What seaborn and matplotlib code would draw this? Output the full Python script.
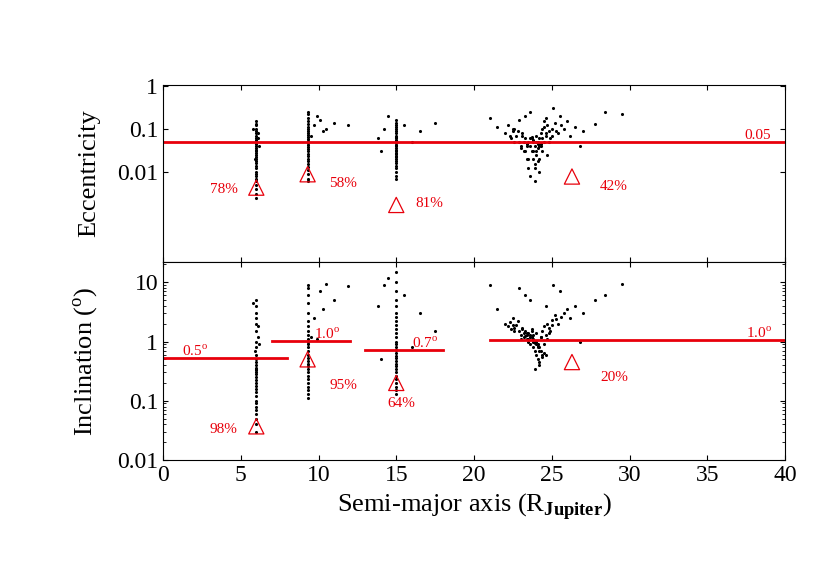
import matplotlib
matplotlib.use("Agg")
import matplotlib.pyplot as plt
import seaborn as sns
import pandas as pd

plt.rcParams["font.family"] = "Liberation Serif"
plt.rcParams["mathtext.fontset"] = "custom"
plt.rcParams["mathtext.rm"] = "Liberation Serif"
plt.rcParams["mathtext.bf"] = "Liberation Serif:bold"

# cluster 1 (a ~ 6)
a1 = [5.95]*31
e1 = [0.0025,0.003,0.004,0.005,0.006,0.007,0.008,0.009,0.01,0.012,0.014,0.016,0.018,0.02,0.022,0.025,
      0.028,0.03,0.033,0.036,0.04,0.045,0.05,0.055,0.06,0.07,0.08,0.09,0.1,0.12,0.15]
i1 = [0.03,0.04,0.05,0.06,0.07,0.08,0.09,0.1,0.12,0.14,0.16,0.18,0.2,0.22,0.25,0.28,0.3,0.33,0.36,0.4,
      0.45,0.5,0.6,0.8,1.0,1.5,2.0,3.0,4.0,5.0,0.35]
a1b = [6.1,5.8,6.2,6.0,5.9,6.1]
e1b = [0.06,0.1,0.04,0.13,0.02,0.08]
i1b = [1.2,4.5,0.9,2.5,0.7,1.8]

# cluster 2 (a ~ 9.3)
a2 = [9.3]*28 + [9.5,9.7,10.1,10.5,11.0,11.9,9.9,10.3]
e2 = [0.006,0.007,0.009,0.011,0.013,0.015,0.018,0.02,0.023,0.026,0.03,0.034,0.038,0.042,0.047,0.052,
      0.058,0.065,0.072,0.08,0.09,0.1,0.11,0.13,0.15,0.18,0.22,0.25,0.07,0.12,0.16,0.1,0.14,0.12,0.2,0.09]
i2 = [0.11,0.13,0.15,0.17,0.2,0.23,0.26,0.3,0.34,0.38,0.42,0.47,0.52,0.6,0.7,0.8,0.9,1.0,1.1,1.3,
      1.5,1.8,2.2,3.0,4.5,6.0,8.0,9.0,1.2,2.5,7.0,9.5,5.0,8.5,1.1,3.5]

# cluster 3 (a ~ 15)
a3 = [15.0]*30 + [13.8,14.2,14.5,15.5,16.0,16.5,17.5,14.0]
e3 = [0.007,0.008,0.01,0.012,0.014,0.016,0.018,0.02,0.022,0.024,0.026,0.028,0.03,0.033,0.036,0.04,
      0.043,0.047,0.05,0.055,0.06,0.065,0.07,0.08,0.09,0.1,0.11,0.12,0.14,0.16,
      0.06,0.1,0.2,0.12,0.05,0.09,0.14,0.03]
i3 = [0.13,0.15,0.17,0.2,0.23,0.26,0.3,0.34,0.38,0.42,0.47,0.52,0.58,0.65,0.72,0.8,0.9,1.0,1.2,1.4,
      1.6,1.9,2.2,2.6,3.0,4.0,5.0,7.0,10.0,15.0,4.0,9.0,12.0,6.0,0.8,3.0,1.5,0.5]

# cluster 4 (a ~ 21-30)
a4 = [22.0,22.2,22.4,22.5,22.6,22.8,23.0,23.1,23.2,23.3,23.4,23.5,23.5,23.6,23.6,23.7,23.7,23.8,23.8,23.9,
      23.9,24.0,24.0,24.1,24.1,24.2,24.2,24.3,24.3,24.4,24.4,24.5,24.5,24.6,24.7,24.8,24.9,25.0,25.2,25.4,
      25.6,25.8,26.0,26.2,26.5,27.0,27.8,29.5,21.0,21.5,22.9,23.3,23.6,23.9,24.2,24.6,25.1,25.5,26.8,28.4,
      23.0,23.4,23.8,24.0,24.3,24.7,22.7,23.2,23.7,24.1,
      22.3,22.6,22.9,23.1,23.4,23.6,23.8,24.0,24.2,24.4,24.6,24.8,25.0,25.3,23.5,23.9,24.1,23.3,22.5,24.5]
e4 = [0.08,0.12,0.06,0.1,0.05,0.09,0.04,0.07,0.03,0.06,0.02,0.05,0.012,0.04,0.008,0.03,0.06,0.02,0.05,0.015,
      0.04,0.07,0.025,0.05,0.035,0.06,0.02,0.045,0.08,0.03,0.1,0.05,0.15,0.07,0.12,0.09,0.06,0.1,0.14,0.08,
      0.12,0.1,0.15,0.07,0.11,0.09,0.13,0.22,0.18,0.11,0.16,0.2,0.25,0.006,0.01,0.18,0.3,0.2,0.04,0.25,
      0.035,0.045,0.055,0.03,0.04,0.025,0.07,0.05,0.065,0.045,
      0.07,0.1,0.05,0.08,0.04,0.06,0.03,0.05,0.04,0.06,0.08,0.05,0.07,0.09,0.02,0.012,0.018,0.03,0.09,0.11]
i4 = [2.0,1.8,1.6,2.5,1.5,2.2,1.3,1.7,1.2,1.5,1.1,1.4,1.0,1.3,0.9,1.2,1.6,0.8,1.1,0.7,
      1.0,1.4,0.6,0.9,0.5,0.8,0.4,0.7,1.2,0.6,1.5,0.9,1.8,1.3,2.0,1.7,1.5,2.3,2.8,2.0,
      2.6,3.0,3.5,2.5,4.0,3.0,5.0,9.5,9.0,3.5,8.0,6.0,5.0,0.35,0.45,4.0,9.0,7.0,1.0,6.0,
      1.1,1.3,1.0,0.9,1.2,1.1,1.9,1.4,1.5,0.8,
      2.1,1.7,1.5,1.6,1.4,1.2,1.3,1.0,0.7,0.55,0.6,1.4,1.9,2.4,1.1,0.95,0.85,1.25,1.9,0.65]

tri_a = [6.0, 9.3, 15.0, 26.3]
tri_e = [0.0043, 0.0088, 0.0017, 0.0078]
tri_i = [0.037, 0.5, 0.2, 0.45]
pct_e = ["78%", "58%", "81%", "42%"]
pct_i = ["98%", "95%", "64%", "20%"]

df = pd.DataFrame({"a": a1 + a1b + a2 + a3 + a4,
                   "e": e1 + e1b + e2 + e3 + e4,
                   "i": i1 + i1b + i2 + i3 + i4})

fig = plt.figure(figsize=(8.3, 5.81), dpi=100)
ax1 = fig.add_axes([163/830, 1-262/581, 622/830, 177/581])
ax2 = fig.add_axes([163/830, 1-460/581, 622/830, 198/581], sharex=ax1)

sns.scatterplot(data=df, x="a", y="e", ax=ax1, s=5, color="black", linewidth=0)
sns.scatterplot(data=df, x="a", y="i", ax=ax2, s=5, color="black", linewidth=0)
for ax in (ax1, ax2):
    ax.set_yscale("log")
    ax.tick_params(direction="in", which="both", top=True, right=True, labelsize=17)
    ax.set_xlabel("")
ax1.set_ylim(8e-5, 1.05)
ax2.set_ylim(0.01, 22)
ax1.set_xlim(0, 40)
ax1.set_yticks([0.01, 0.1, 1]); ax1.set_yticklabels(["0.01", "0.1", "1"])
ax2.set_yticks([0.01, 0.1, 1, 10]); ax2.set_yticklabels(["0.01", "0.1", "1", "10"])
ax1.tick_params(labelbottom=False)
ax2.set_xticks(range(0, 41, 5))
ax1.set_ylabel("Eccentricity", fontsize=19, labelpad=12)
ax2.set_ylabel("Inclination ($^{\\rm o}$)", fontsize=19, labelpad=12)
ax2.set_xlabel("Semi-major axis (R$_{\\bf Jupiter}$)", fontsize=19)

red = "#e8000b"
ax1.axhline(0.05, color=red, lw=2)
ax1.text(37.4, 0.058, "0.05", color=red, fontsize=11)
ax1.scatter(tri_a, tri_e, marker="^", s=120, facecolors="none", edgecolors=red, lw=0.9, zorder=5)
ax2.scatter(tri_a, tri_i, marker="^", s=120, facecolors="none", edgecolors=red, lw=0.9, zorder=5)
for (x0, x1, y, lab, lx) in [(0, 8, 0.52, "0.5$^{\\rm o}$", 1.2), (7, 12, 1.02, "1.0$^{\\rm o}$", 9.7),
                             (13, 18, 0.72, "0.7$^{\\rm o}$", 16.0), (21, 40, 1.05, "1.0$^{\\rm o}$", 37.5)]:
    ax2.plot([x0, x1], [y, y], color=red, lw=2)
    ax2.text(lx, y * 1.1, lab, color=red, fontsize=11)
offs = [(-3.0, 0.9), (1.4, 0.6), (1.2, 1.1), (1.8, 0.6)]
for k in range(4):
    ax1.text(tri_a[k] + offs[k][0], tri_e[k] * offs[k][1], pct_e[k], color=red, fontsize=11, va="center")
ioffs = [(-3.0, 0.9), (1.4, 0.36), (-0.6, 0.45), (1.8, 0.55)]
for k in range(4):
    ax2.text(tri_a[k] + ioffs[k][0], tri_i[k] * ioffs[k][1], pct_i[k], color=red, fontsize=11, va="center")

fig.savefig("out.png", dpi=100)
